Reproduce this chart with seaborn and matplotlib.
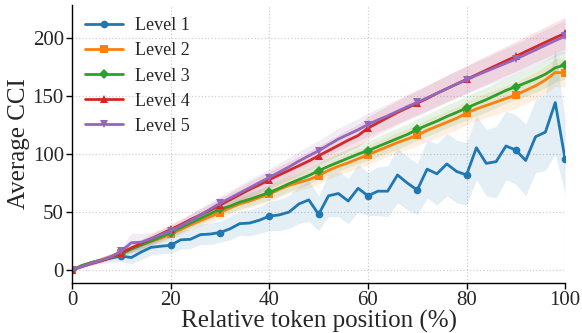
import numpy as np
import pandas as pd
import seaborn as sns
import matplotlib.pyplot as plt

# Relative token position (%) and average CCI per difficulty level
positions = list(range(0, 101, 2))
levels = ["Level 1", "Level 2", "Level 3", "Level 4", "Level 5"]

level1 = [0, 3, 6.5, 8.5, 10.5, 12, 10.7, 15.5, 19.5, 20.5, 21.3, 26, 26.5, 30.5, 31,
          32.3, 35.5, 40, 40.5, 43, 46.5, 47.5, 50, 57, 60.5, 48, 64, 66, 59.5, 70.5,
          64, 68, 68, 82, 75, 69, 87, 83, 91.5, 85, 82, 105.5, 92, 93.5, 107, 103.5,
          94.5, 115, 119, 144.5, 95.5]
level2 = [0, 3.5, 6.5, 9, 12, 15, 18.5, 21.5, 24.5, 27.5, 30.8, 35, 39, 42.5, 46,
          49.6, 53.5, 57, 59.5, 62.5, 65.4, 69.5, 73, 75.5, 78, 81.3, 86, 89.5, 92.5,
          96, 99.4, 103, 106.5, 110, 113, 116.4, 120.5, 124, 127.5, 131, 135.4, 139,
          142, 145, 148, 151, 155, 159, 164, 170.5, 170]
level3 = [0, 4, 6.5, 8.5, 11, 14, 18, 21.5, 25, 28.5, 32.3, 36.5, 40.5, 44.5, 48.5,
          52.5, 55, 58.5, 61, 64, 66.9, 70.5, 74.5, 78, 81.5, 85.7, 89.5, 93, 96.5,
          100, 103, 106.5, 110, 113.5, 117, 121.3, 125, 128.5, 132.5, 136, 139.8,
          143.5, 147, 151, 155, 158.2, 161.5, 165, 169, 174.5, 177]
level4 = [0, 3, 5.5, 8, 11, 15, 19, 23, 27, 31, 35, 39, 43.5, 47.5, 51.5, 56, 60.5,
          65, 69.5, 73.5, 78, 82, 86, 90, 94, 98.6, 103, 107.5, 112, 116, 122.5, 127,
          131.5, 136, 140, 144, 148, 152.5, 156.5, 160.5, 164.5, 168.5, 172.5, 176.5,
          180.5, 184.4, 188.5, 192.5, 196.5, 200.5, 204.3]
level5 = [0, 3, 6, 8.5, 11.5, 16.4, 23.5, 24, 27, 30.5, 33.7, 38, 42.5, 47.5, 52.5,
          57.6, 62, 66.5, 71, 75.5, 79.8, 84.5, 89, 94, 98.5, 102.9, 108, 113, 117,
          121, 125.5, 129.5, 133, 137, 141, 144.7, 148.5, 152.5, 156.5, 160.5, 164,
          168, 171.5, 175, 178.5, 182, 186, 190, 194, 198, 201.7]

# Lower / upper edges of the confidence band for each level
level1_lo = [0, 2, 4.5, 5.5, 6.5, 7.5, 5, 9, 13, 14, 14.5, 18, 18.5, 22, 22, 24, 26,
             30, 29.5, 31.5, 34, 34, 36, 40, 42, 34, 46, 46, 40, 50, 47, 47, 46, 58,
             52, 48, 62, 56, 64, 58, 56, 78, 64, 62, 78, 74, 64, 84, 86, 100, 66]
level1_hi = [0, 4, 8.5, 11.5, 14.5, 17, 16.5, 22, 26.5, 27.5, 28.5, 34, 35, 39.5,
             40.5, 42, 46, 51, 52, 55, 59, 61, 64.5, 72, 77, 64, 82, 85, 79, 91, 84,
             89, 90, 105, 98, 92, 112, 109, 118, 112, 110, 133, 121, 124, 137, 134,
             126, 147, 152, 190, 130]
spread2 = [0, 0.8, 1.3, 1.6, 2.1, 2.5, 2.8, 3.1, 3.2, 3.6, 4, 4.1, 4.5, 4.7, 5.1,
           5.3, 5.4, 5.7, 5.9, 6, 6.3, 6.4, 6.7, 6.9, 7, 7.3, 7.4, 7.7, 7.8, 8.1,
           8.2, 8.5, 8.6, 8.8, 9.1, 9.2, 9.4, 9.7, 9.8, 10, 10.3, 10.4, 10.6, 10.9,
           11, 11.2, 11.5, 11.6, 11.8, 12.2, 12]
spread3 = [0, 0.9, 1.2, 1.6, 2, 2.5, 3, 3.2, 3.5, 3.8, 4.2, 4.4, 4.6, 4.9, 5.1, 5.4,
           5.5, 5.8, 6, 6.1, 6.4, 6.6, 6.8, 7, 7.2, 7.4, 7.6, 7.8, 8, 8.2, 8.4, 8.6,
           8.8, 9, 9.1, 9.3, 9.5, 9.8, 9.9, 10.1, 10.3, 10.5, 10.7, 10.9, 11, 11.2,
           11.4, 11.7, 11.8, 12.1, 12.2]
spread4 = [0, 0.8, 1.1, 1.5, 2, 2.6, 3.1, 3.5, 3.9, 4.2, 4.6, 4.9, 5.2, 5.5, 5.8, 6,
           6.3, 6.6, 6.8, 7.1, 7.3, 7.6, 7.8, 8.1, 8.3, 8.6, 8.8, 9.1, 9.3, 9.6, 9.8,
           10, 10.2, 10.4, 10.6, 10.8, 11, 11.2, 11.4, 11.6, 11.8, 12, 12.2, 12.4,
           12.6, 12.8, 13, 13.2, 13.4, 13.6, 13.8]
spread5 = [0, 0.8, 1.2, 1.7, 2.3, 3.5, 8.5, 7.5, 5.5, 4.8, 4.9, 5.2, 5.5, 5.8, 6.1,
           6.3, 6.6, 6.9, 7.1, 7.4, 7.6, 7.9, 8.1, 8.4, 8.6, 8.9, 9.1, 9.3, 9.5, 9.7,
           9.9, 10.1, 10.3, 10.5, 10.7, 10.9, 11.1, 11.3, 11.5, 11.7, 11.9, 12.1,
           12.3, 12.5, 12.7, 12.9, 13.1, 13.3, 13.5, 13.7, 13.9]

means = [level1, level2, level3, level4, level5]
lowers = [level1_lo] + [list(np.array(m) - np.array(s)) for m, s in
                        zip(means[1:], [spread2, spread3, spread4, spread5])]
uppers = [level1_hi] + [list(np.array(m) + np.array(s)) for m, s in
                        zip(means[1:], [spread2, spread3, spread4, spread5])]

df = pd.DataFrame({
    "pos": positions * len(levels),
    "cci": sum(means, []),
    "level": sum([[lv] * len(positions) for lv in levels], []),
})

sns.set_theme(style="ticks")
plt.rcParams["font.family"] = ["Liberation Serif", "DejaVu Serif"]
plt.rcParams["mathtext.fontset"] = "stix"

palette = sns.color_palette("tab10", 5)
marker_list = ["o", "s", "D", "^", "v"]

fig = plt.figure(figsize=(5.82, 3.33), dpi=100)
ax = fig.add_axes([0.124, 0.151, 0.847, 0.835])

for lv, lo, hi, col in zip(levels, lowers, uppers, palette):
    ax.fill_between(positions, lo, hi, color=col, alpha=0.12, linewidth=0)

sns.lineplot(data=df, x="pos", y="cci", hue="level", style="level",
             palette=palette, markers=marker_list, dashes=False,
             errorbar=None, linewidth=2, markersize=5.5, markevery=5,
             markeredgewidth=0, ax=ax)

ax.set_xlim(0, 100)
ax.set_ylim(-11, 229)
ax.set_xticks([0, 20, 40, 60, 80, 100])
ax.set_yticks([0, 50, 100, 150, 200])
ax.grid(True, linestyle=":", color="#d0d0d0", linewidth=0.9)
ax.set_axisbelow(True)
sns.despine(ax=ax)
for sp in ["left", "bottom"]:
    ax.spines[sp].set_color("black")
    ax.spines[sp].set_linewidth(1.0)
ax.tick_params(axis="both", labelsize=15, length=4, width=1, color="black",
               pad=2)
ax.set_xlabel("Relative token position (%)", fontsize=18, labelpad=0)
ax.set_ylabel("Average CCI", fontsize=18, labelpad=2)

leg = ax.legend(loc="upper left", frameon=False, fontsize=13,
                handlelength=2.1, handletextpad=0.7, borderaxespad=0.3,
                labelspacing=0.45, bbox_to_anchor=(0.0, 1.0))

fig.savefig("out.png", dpi=100)
